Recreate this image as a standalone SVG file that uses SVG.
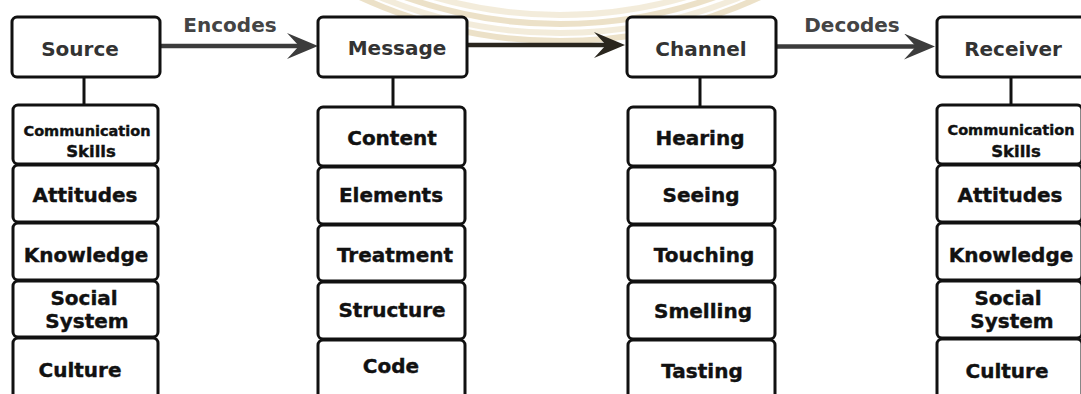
<svg xmlns="http://www.w3.org/2000/svg" width="1081" height="394" viewBox="0 0 1081 394">
  <style>
    .box { fill: #ffffff; stroke: #111111; stroke-width: 3; }
    .row { fill: #ffffff; stroke: #111111; stroke-width: 3; }
    .head { font-family: "DejaVu Sans", "Liberation Sans", sans-serif; font-weight: bold; font-size: 20px; fill: #333333; text-anchor: middle; }
    .item { font-family: "DejaVu Sans", "Liberation Sans", sans-serif; font-weight: bold; font-size: 20px; fill: #111111; stroke: #111111; stroke-width: 0.4; text-anchor: middle; }
    .small { font-size: 14.5px; }
    .mid { font-size: 16.5px; }
    .lbl { font-family: "DejaVu Sans", "Liberation Sans", sans-serif; font-weight: bold; font-size: 20px; fill: #444444; text-anchor: middle; }
    .link { fill: none; stroke: #3c3c3c; stroke-width: 4.5; }
    .link.dark { stroke: #2a261e; }
    .stem { fill: none; stroke: #111111; stroke-width: 3; }
    .seal { fill: none; stroke: #e6d7b6; stroke-width: 6; opacity: 0.75; }
    .seal.light { stroke: #efe5cf; }
  </style>
  <defs>
    <marker id="head" markerUnits="userSpaceOnUse" markerWidth="34" markerHeight="28" viewBox="0 0 34 28" refX="18" refY="13" orient="auto">
      <path d="M32,13 L1,0 L13,13 L1,26 Z" fill="#3c3c3c"/>
    </marker>
    <marker id="headDark" markerUnits="userSpaceOnUse" markerWidth="34" markerHeight="28" viewBox="0 0 34 28" refX="18" refY="13" orient="auto">
      <path d="M32,13 L1,0 L13,13 L1,26 Z" fill="#2a261e"/>
    </marker>
  </defs>

  <rect width="1081" height="394" fill="#ffffff"/>

  <!-- faint seal rings in the background -->
  <g id="seal">
    <circle class="seal" cx="560" cy="-437" r="478"/>
    <circle class="seal light" cx="560" cy="-437" r="470"/>
    <circle class="seal" cx="560" cy="-437" r="461"/>
    <circle class="seal light" cx="560" cy="-437" r="452"/>
  </g>

  <!-- connectors -->
  <g id="connectors">
    <line class="link" x1="160" y1="46" x2="304" y2="46" marker-end="url(#head)"/>
    <line class="link dark" x1="467" y1="45" x2="611" y2="45" marker-end="url(#headDark)"/>
    <line class="link" x1="776" y1="46.5" x2="921" y2="46.5" marker-end="url(#head)"/>
    <line class="stem" x1="84" y1="77" x2="84" y2="106"/>
    <line class="stem" x1="393" y1="77" x2="393" y2="108"/>
    <line class="stem" x1="700" y1="77" x2="700" y2="108"/>
    <line class="stem" x1="1011" y1="77" x2="1011" y2="106"/>
    <text class="lbl" x="230" y="32">Encodes</text>
    <text class="lbl" x="852" y="32">Decodes</text>
  </g>

  <!-- Source column -->
  <g id="source">
    <rect class="box" x="12" y="17" width="148" height="60" rx="5"/>
    <text class="head" x="80" y="56">Source</text>
  </g>
  <g id="source-skills">
    <rect class="row" x="13" y="105" width="145" height="59" rx="5"/>
    <text class="item small" x="87" y="136">Communication</text>
    <text class="item mid" x="91" y="157">Skills</text>
  </g>
  <g id="source-attitudes">
    <rect class="row" x="13" y="165" width="145" height="57" rx="5"/>
    <text class="item" x="85" y="202">Attitudes</text>
  </g>
  <g id="source-knowledge">
    <rect class="row" x="13" y="223" width="145" height="57" rx="5"/>
    <text class="item" x="86" y="262">Knowledge</text>
  </g>
  <g id="source-social">
    <rect class="row" x="13" y="281" width="145" height="56" rx="5"/>
    <text class="item" x="84" y="305">Social</text>
    <text class="item" x="87" y="328">System</text>
  </g>
  <g id="source-culture">
    <rect class="row" x="13" y="338" width="145" height="70" rx="5"/>
    <text class="item" x="80" y="377">Culture</text>
  </g>

  <!-- Message column -->
  <g id="message">
    <rect class="box" x="318" y="17" width="149" height="60" rx="5"/>
    <text class="head" x="397" y="55">Message</text>
  </g>
  <g id="message-content">
    <rect class="row" x="318" y="107" width="147" height="59" rx="5"/>
    <text class="item" x="392" y="145">Content</text>
  </g>
  <g id="message-elements">
    <rect class="row" x="318" y="167" width="147" height="57" rx="5"/>
    <text class="item" x="391" y="202">Elements</text>
  </g>
  <g id="message-treatment">
    <rect class="row" x="318" y="225" width="147" height="56" rx="5"/>
    <text class="item" x="395" y="262">Treatment</text>
  </g>
  <g id="message-structure">
    <rect class="row" x="318" y="282" width="147" height="57" rx="5"/>
    <text class="item" x="392" y="317">Structure</text>
  </g>
  <g id="message-code">
    <rect class="row" x="318" y="340" width="147" height="70" rx="5"/>
    <text class="item" x="391" y="373">Code</text>
  </g>

  <!-- Channel column -->
  <g id="channel">
    <rect class="box" x="627" y="17" width="149" height="60" rx="5"/>
    <text class="head" x="701" y="56">Channel</text>
  </g>
  <g id="channel-hearing">
    <rect class="row" x="628" y="107" width="147" height="59" rx="5"/>
    <text class="item" x="700" y="145">Hearing</text>
  </g>
  <g id="channel-seeing">
    <rect class="row" x="628" y="167" width="147" height="57" rx="5"/>
    <text class="item" x="701" y="202">Seeing</text>
  </g>
  <g id="channel-touching">
    <rect class="row" x="628" y="225" width="147" height="56" rx="5"/>
    <text class="item" x="704" y="262">Touching</text>
  </g>
  <g id="channel-smelling">
    <rect class="row" x="628" y="282" width="147" height="57" rx="5"/>
    <text class="item" x="703" y="318">Smelling</text>
  </g>
  <g id="channel-tasting">
    <rect class="row" x="628" y="340" width="147" height="70" rx="5"/>
    <text class="item" x="702" y="378">Tasting</text>
  </g>

  <!-- Receiver column -->
  <g id="receiver">
    <rect class="box" x="937" y="17" width="149" height="60" rx="5"/>
    <text class="head" x="1013" y="56">Receiver</text>
  </g>
  <g id="receiver-skills">
    <rect class="row" x="937" y="105" width="145" height="59" rx="5"/>
    <text class="item small" x="1011" y="135">Communication</text>
    <text class="item mid" x="1016" y="157">Skills</text>
  </g>
  <g id="receiver-attitudes">
    <rect class="row" x="937" y="165" width="145" height="57" rx="5"/>
    <text class="item" x="1010" y="202">Attitudes</text>
  </g>
  <g id="receiver-knowledge">
    <rect class="row" x="937" y="223" width="145" height="57" rx="5"/>
    <text class="item" x="1011" y="262">Knowledge</text>
  </g>
  <g id="receiver-social">
    <rect class="row" x="937" y="281" width="145" height="57" rx="5"/>
    <text class="item" x="1008" y="305">Social</text>
    <text class="item" x="1012" y="328">System</text>
  </g>
  <g id="receiver-culture">
    <rect class="row" x="937" y="339" width="145" height="70" rx="5"/>
    <text class="item" x="1007" y="378">Culture</text>
  </g>
</svg>
